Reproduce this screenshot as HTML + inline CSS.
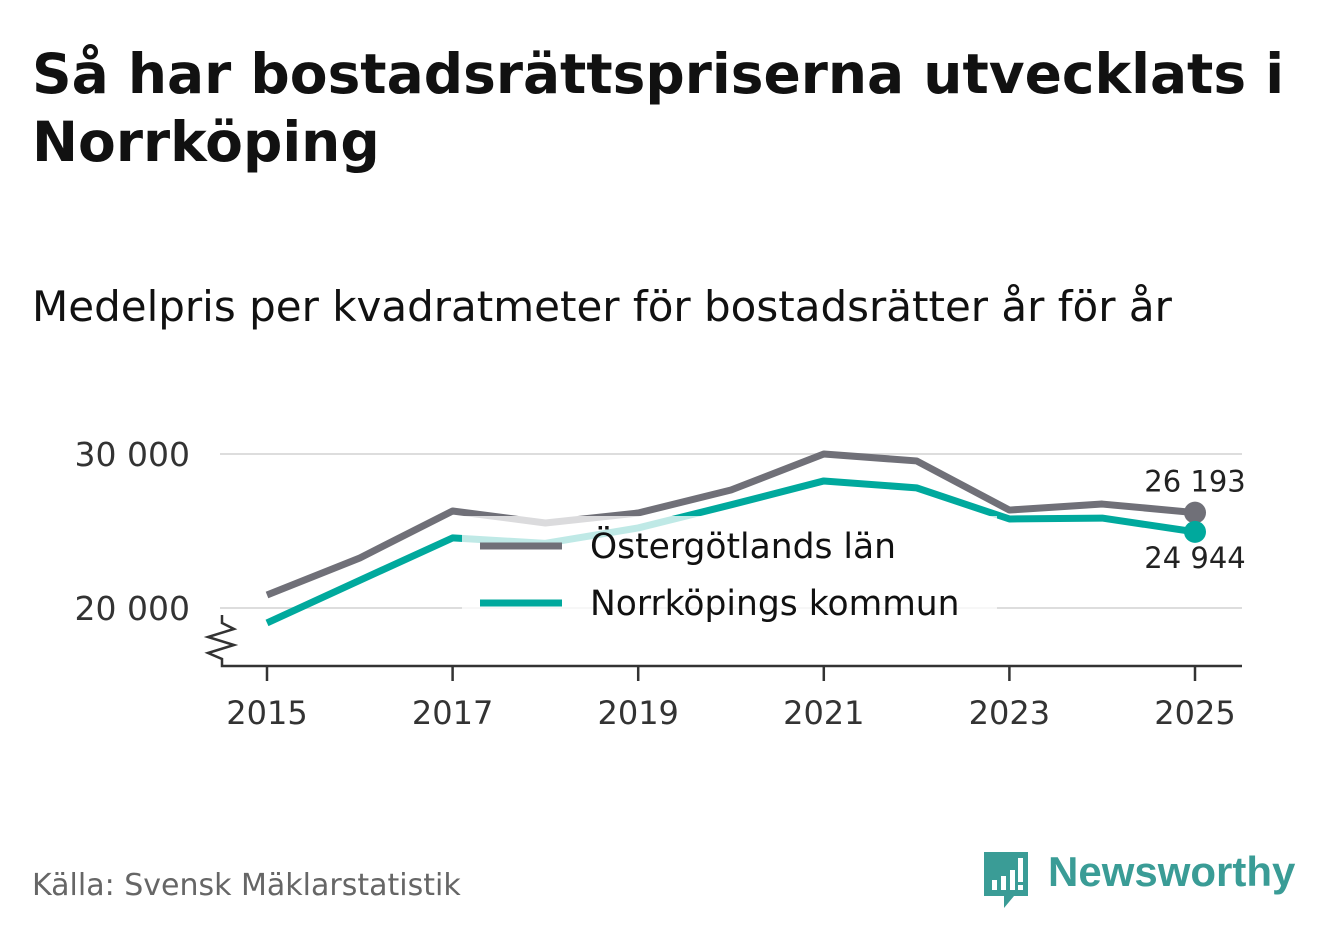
<!DOCTYPE html>
<html><head><meta charset="utf-8"><style>
body{margin:0;width:1322px;height:939px;background:#fff;font-family:"DejaVu Sans","Liberation Sans",sans-serif;overflow:hidden;position:relative}
#title{position:absolute;left:32px;top:40px;font-size:55px;font-weight:bold;line-height:68px;color:#111;margin:0}
#sub{position:absolute;left:32px;top:282px;font-size:42px;color:#111}
#src{position:absolute;left:32px;top:868px;font-size:30px;color:#666}
</style></head><body>
<h1 id="title">Så har bostadsrättspriserna utvecklats i<br>Norrköping</h1>
<div id="sub">Medelpris per kvadratmeter för bostadsrätter år för år</div>
<svg id="chart" width="1322" height="939" style="position:absolute;left:0;top:0"></svg>
<div id="src">Källa: Svensk Mäklarstatistik</div>
<div style="position:absolute;left:982px;top:850px;height:60px">
<svg width="48" height="60" style="position:absolute;left:0;top:0"><path d="M2 2h44v44H32l-10 12V46H2z" fill="#3a9c96"/><rect x="10" y="30" width="5" height="10" fill="#fff"/><rect x="19" y="26" width="5" height="14" fill="#fff"/><rect x="28" y="20" width="5" height="20" fill="#fff"/><rect x="36" y="8" width="5" height="24" fill="#fff"/><rect x="36" y="35" width="5" height="5" fill="#fff"/></svg>
<span style="position:absolute;left:66px;top:-2px;font-size:42px;font-weight:bold;color:#3a9c96;font-family:'Liberation Sans',sans-serif">Newsworthy</span></div>
<script>
const years=[2015,2016,2017,2018,2019,2020,2021,2022,2023,2024,2025];
const ost=[20844,23250,26300,25520,26170,27660,30000,29550,26360,26750,26193];
const nkp=[19030,21800,24550,24200,25200,26700,28250,27800,25780,25840,24944];
const yTicks=[20000,30000];
const yLabels=["20 000","30 000"];
const xTicks=[2015,2017,2019,2021,2023,2025];
const svg=document.getElementById('chart');const NS='http://www.w3.org/2000/svg';
const x=v=>267+(v-2015)*92.8;const y=v=>608-(v-20000)*0.0154;
function mk(t,a,p){const e=document.createElementNS(NS,t);for(const k in a)e.setAttribute(k,a[k]);(p||svg).appendChild(e);return e;}
yTicks.forEach((t,i)=>{const g=mk('line',{x1:220,x2:1242,y1:y(t),y2:y(t),stroke:'#ddd','stroke-width':2});
const l=mk('text',{x:190,y:y(t)+12,'text-anchor':'end','font-size':33,fill:'#333'});l.textContent=yLabels[i];});
const ax=mk('path',{d:'M222 615v8l12 6-26 8 26 8-26 8 14 6v7h1020',fill:'none',stroke:'#333','stroke-width':2.5});
xTicks.forEach(t=>{mk('line',{x1:x(t),x2:x(t),y1:666,y2:681,stroke:'#333','stroke-width':2.5});const l=mk('text',{x:x(t),y:724,'text-anchor':'middle','font-size':32,fill:'#333'});l.textContent=t;});
function series(d,c,n){const p=mk('polyline',{points:d.map((v,i)=>x(years[i])+','+y(v)).join(' '),fill:'none',stroke:c,'stroke-width':7,'stroke-linejoin':'round'});
const dt=mk('circle',{cx:x(years[years.length-1]),cy:y(d[d.length-1]),r:11,fill:c});}
series(ost,'#707078','line-ostergotland');series(nkp,'#00a99d','line-norrkoping');
const v1=mk('text',{x:1195,y:y(ost[10])-21,'text-anchor':'middle','font-size':29,fill:'#222'});v1.textContent='26 193';
const v2=mk('text',{x:1195,y:y(nkp[10])+36,'text-anchor':'middle','font-size':29,fill:'#222'});v2.textContent='24 944';
const lg=mk('g',{});
mk('rect',{x:462,y:516,width:535,height:120,fill:'#fff','fill-opacity':0.75},lg);
[['Östergötlands län','#707078',546],['Norrköpings kommun','#00a99d',603]].forEach(([t,c,yy])=>{const e=mk('g',{},lg);
mk('line',{x1:480,x2:562,y1:yy,y2:yy,stroke:c,'stroke-width':7},e);const tx=mk('text',{x:590,y:yy+12,'font-size':34.5,fill:'#111'},e);tx.textContent=t;});
</script></body></html>
